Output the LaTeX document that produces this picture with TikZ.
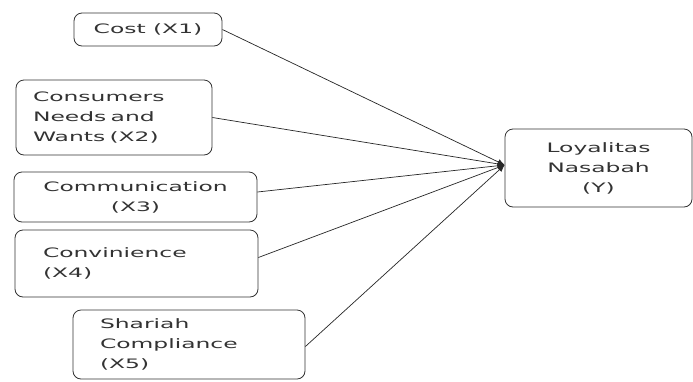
\documentclass[tikz,border=0pt]{standalone}
\usepackage{fontspec}
\newfontfamily\vf[FakeStretch=1.8]{DejaVu Sans}
\usetikzlibrary{arrows.meta}
\tikzset{
  box/.style={draw=black!80, line width=0.8pt, rounded corners=8pt, inner ysep=0pt,
    font=\vf\fontsize{13}{20}\selectfont, text=black!80},
  conn/.style={line width=0.7pt, draw=black!85, -{Latex[length=7pt,width=6pt]}}
}
\begin{document}
\begin{tikzpicture}[x=1pt,y=-1pt]
\useasboundingbox[fill=white] (0,0) rectangle (693,381);
\node[box, minimum width=148pt, minimum height=33pt, inner xsep=0pt, align=center] (x1) at (148,29.5) {Cost (X1)};
\node[box, minimum width=196pt, minimum height=75pt, inner xsep=17pt, text width=162pt, align=left] (x2) at (114,117.5) {Consumers\\Needs and\\Wants (X2)};
\node[box, minimum width=243pt, minimum height=50pt, inner xsep=10pt, text width=223pt, align=center] (x3) at (135.5,197) {Communication\\(X3)};
\node[box, minimum width=243pt, minimum height=67pt, inner xsep=28pt, text width=187pt, align=left] (x4) at (136.5,263.5) {Convinience\\(X4)};
\node[box, minimum width=232pt, minimum height=69pt, inner xsep=27pt, text width=178pt, align=left] (x5) at (189,344.5) {Shariah\\Compliance\\(X5)};
\node[box, minimum width=187pt, minimum height=78pt, inner xsep=10pt, text width=167pt, align=center] (y) at (598.5,168) {Loyalitas\\Nasabah\\(Y)};
\coordinate (tip) at ([yshift=3pt]y.west);
\draw[conn] (x1.east) -- (tip);
\draw[conn] (x2.east) -- (tip);
\draw[conn] ([yshift=5pt]x3.east) -- (tip);
\draw[conn] ([yshift=6pt]x4.east) -- (tip);
\draw[conn] ([yshift=-2pt]x5.east) -- (tip);
\end{tikzpicture}
\end{document}
